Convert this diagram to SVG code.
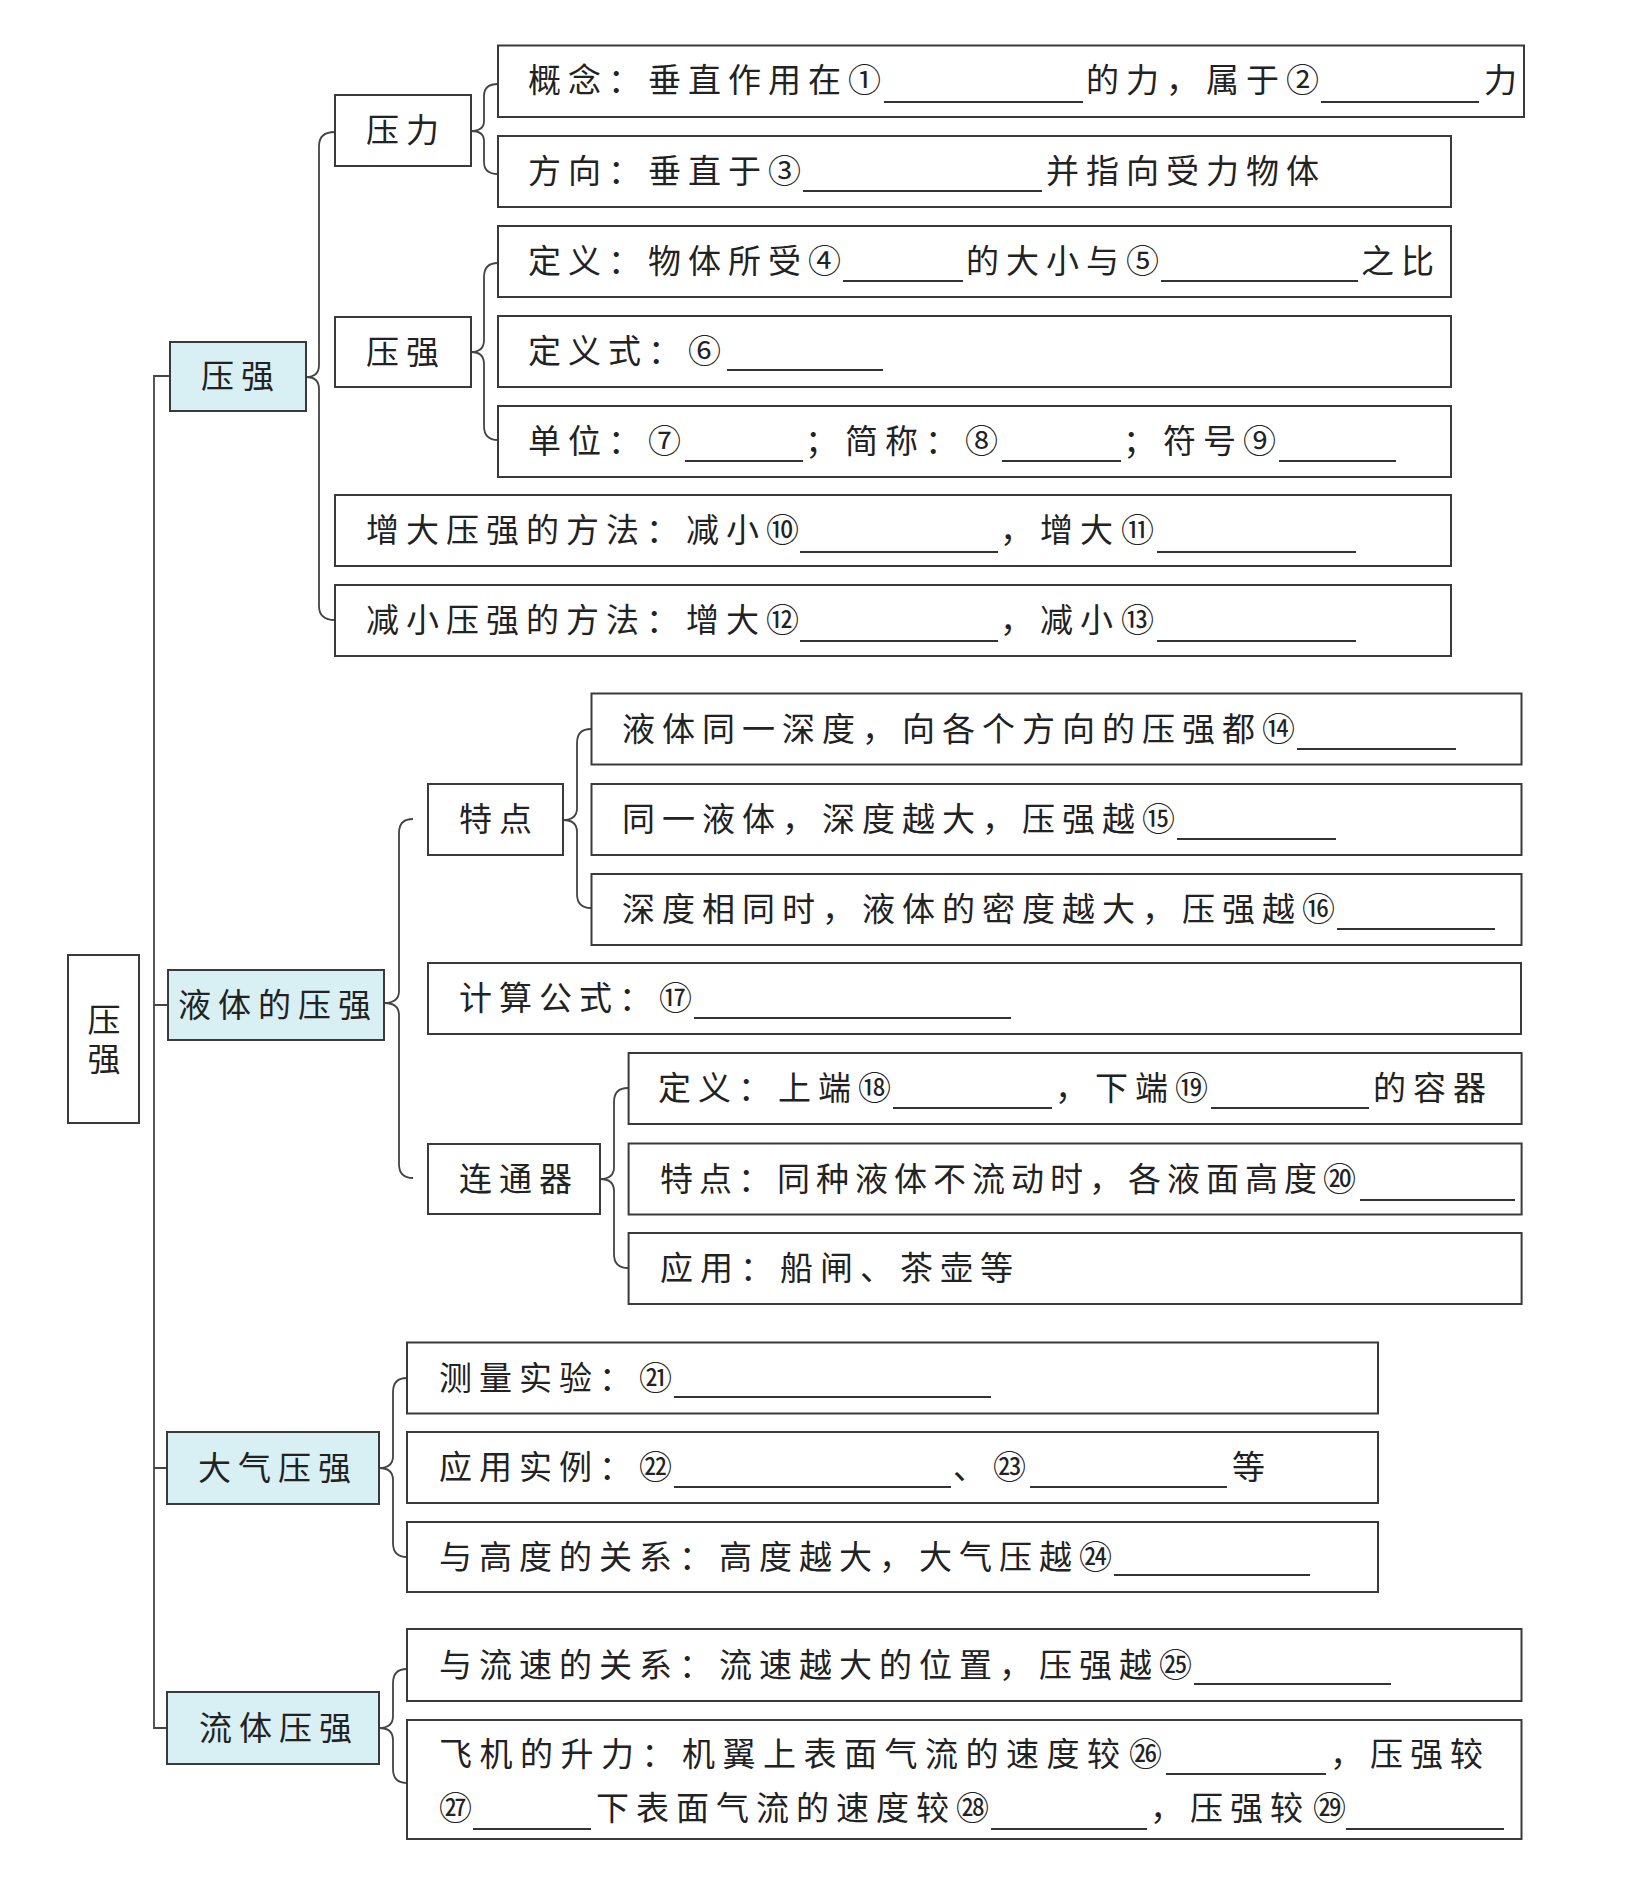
<svg xmlns="http://www.w3.org/2000/svg" width="1638" height="1879" viewBox="0 0 1638 1879">
<style>
.bx{fill:#fff;stroke:#3a3a3a;stroke-width:2}
.l1{fill:#d8eff4;stroke:#3a3a3a;stroke-width:2}
.t{font-family:"Noto Sans CJK SC","Noto Sans",sans-serif;font-size:33px;letter-spacing:7px;fill:#222}
.ul{stroke:#333;stroke-width:2}
.cn{fill:none;stroke:#444;stroke-width:1.8}
</style>
<rect width="1638" height="1879" fill="#fff"/>
<g id="connectors">
<path class="cn" d="M170,376 H154 V1728 H167 M154,1005 H168 M154,1468 H167"/>
<path class="cn" d="M335,132 Q319,132 319,146 L319,365 Q319,377 306,377 Q319,377 319,389 L319,606 Q319,620 335,620"/>
<path class="cn" d="M498,84 Q484,84 484,96 L484,121 Q484,131 471,131 Q484,131 484,141 L484,162 Q484,174 498,174"/>
<path class="cn" d="M498,263 Q484,263 484,277 L484,340 Q484,352 471,352 Q484,352 484,364 L484,426 Q484,440 498,440"/>
<path class="cn" d="M413,819 Q399,819 399,833 L399,991 Q399,1003 384,1003 Q399,1003 399,1015 L399,1164 Q399,1178 413,1178"/>
<path class="cn" d="M591,729 Q577,729 577,743 L577,808 Q577,820 563,820 Q577,820 577,832 L577,894 Q577,908 591,908"/>
<path class="cn" d="M628,1088 Q614,1088 614,1102 L614,1167 Q614,1179 600,1179 Q614,1179 614,1191 L614,1254 Q614,1268 628,1268"/>
<path class="cn" d="M407,1378 Q393,1378 393,1392 L393,1456 Q393,1468 379,1468 Q393,1468 393,1480 L393,1543 Q393,1557 407,1557"/>
<path class="cn" d="M407,1669 Q393,1669 393,1683 L393,1716 Q393,1728 379,1728 Q393,1728 393,1740 L393,1769 Q393,1783 407,1783"/>
</g>
<g id="root"><rect class="bx" x="68" y="955" width="71" height="168"/><text class="t" x="104" y="1003" writing-mode="vertical-rl" style="letter-spacing:6px">压强</text></g>
<g id="n-yaqiang"><rect class="l1" x="170" y="342" width="136" height="69"/><text class="t" x="201" y="388">压强</text></g>
<g id="n-yeti"><rect class="l1" x="168" y="970" width="216" height="70"/><text class="t" x="178" y="1017">液体的压强</text></g>
<g id="n-daqi"><rect class="l1" x="167" y="1432" width="212" height="72"/><text class="t" x="198" y="1480">大气压强</text></g>
<g id="n-liuti"><rect class="l1" x="167" y="1692" width="212" height="72"/><text class="t" x="199" y="1740">流体压强</text></g>
<g id="n-yali"><rect class="bx" x="335" y="95" width="136" height="71"/><text class="t" x="366" y="142">压力</text></g>
<g id="n-yaqiang2"><rect class="bx" x="335" y="317" width="136" height="70"/><text class="t" x="366" y="364">压强</text></g>
<g id="n-gainian"><rect class="bx" x="498" y="45.5" width="1026" height="71.5"/>
<text class="t" y="92"><tspan x="528">概念：垂直作用在</tspan><tspan x="848">①</tspan><tspan x="1086">的力，属于</tspan><tspan x="1286">②</tspan><tspan x="1484">力</tspan></text>
<line class="ul" x1="884" y1="102" x2="1083" y2="102"/><line class="ul" x1="1321" y1="102" x2="1479" y2="102"/></g>
<g id="n-fangxiang"><rect class="bx" x="498" y="136" width="953" height="71"/>
<text class="t" y="183"><tspan x="528">方向：垂直于</tspan><tspan x="768">③</tspan><tspan x="1046">并指向受力物体</tspan></text>
<line class="ul" x1="803" y1="191" x2="1042" y2="191"/></g>
<g id="n-dingyi"><rect class="bx" x="498" y="226" width="953" height="71"/>
<text class="t" y="273"><tspan x="528">定义：物体所受</tspan><tspan x="808">④</tspan><tspan x="966">的大小与</tspan><tspan x="1126">⑤</tspan><tspan x="1361">之比</tspan></text>
<line class="ul" x1="843" y1="281" x2="963" y2="281"/><line class="ul" x1="1161" y1="281" x2="1358" y2="281"/></g>
<g id="n-dingyishi"><rect class="bx" x="498" y="316" width="953" height="71"/>
<text class="t" y="363"><tspan x="528">定义式：</tspan><tspan x="688">⑥</tspan></text>
<line class="ul" x1="727" y1="370" x2="883" y2="370"/></g>
<g id="n-danwei"><rect class="bx" x="498" y="406" width="953" height="71"/>
<text class="t" y="453"><tspan x="528">单位：</tspan><tspan x="648">⑦</tspan><tspan x="805">；简称：</tspan><tspan x="965">⑧</tspan><tspan x="1123">；符号</tspan><tspan x="1243">⑨</tspan></text>
<line class="ul" x1="685" y1="461" x2="803" y2="461"/><line class="ul" x1="1002" y1="461" x2="1121" y2="461"/><line class="ul" x1="1279" y1="461" x2="1396" y2="461"/></g>
<g id="n-zengda"><rect class="bx" x="335" y="495" width="1116" height="71"/>
<text class="t" y="542"><tspan x="366">增大压强的方法：减小</tspan><tspan x="766">⑩</tspan><tspan x="1000">，增大</tspan><tspan x="1121">⑪</tspan></text>
<line class="ul" x1="800" y1="552" x2="998" y2="552"/><line class="ul" x1="1157" y1="552" x2="1356" y2="552"/></g>
<g id="n-jianxiao"><rect class="bx" x="335" y="585" width="1116" height="71"/>
<text class="t" y="632"><tspan x="366">减小压强的方法：增大</tspan><tspan x="766">⑫</tspan><tspan x="1000">，减小</tspan><tspan x="1121">⑬</tspan></text>
<line class="ul" x1="800" y1="641" x2="998" y2="641"/><line class="ul" x1="1157" y1="641" x2="1356" y2="641"/></g>
<g id="n-tedian"><rect class="bx" x="428" y="784" width="135" height="71"/><text class="t" x="459" y="831">特点</text></g>
<g id="n-jisuan"><rect class="bx" x="428" y="963" width="1093" height="71"/>
<text class="t" y="1010"><tspan x="459">计算公式：</tspan><tspan x="659">⑰</tspan></text>
<line class="ul" x1="694" y1="1018" x2="1011" y2="1018"/></g>
<g id="n-liantongqi"><rect class="bx" x="428" y="1144" width="172" height="70"/><text class="t" x="459" y="1191">连通器</text></g>
<g id="n-ye1"><rect class="bx" x="591.5" y="693.5" width="930" height="71"/>
<text class="t" y="741"><tspan x="622">液体同一深度，向各个方向的压强都</tspan><tspan x="1262">⑭</tspan></text>
<line class="ul" x1="1297" y1="749" x2="1456" y2="749"/></g>
<g id="n-ye2"><rect class="bx" x="591.5" y="784" width="930" height="71"/>
<text class="t" y="831"><tspan x="622">同一液体，深度越大，压强越</tspan><tspan x="1142">⑮</tspan></text>
<line class="ul" x1="1177" y1="839" x2="1336" y2="839"/></g>
<g id="n-ye3"><rect class="bx" x="591.5" y="874" width="930" height="71"/>
<text class="t" y="921"><tspan x="622">深度相同时，液体的密度越大，压强越</tspan><tspan x="1302">⑯</tspan></text>
<line class="ul" x1="1337" y1="929" x2="1495" y2="929"/></g>
<g id="n-lian1"><rect class="bx" x="628.6" y="1053" width="893" height="71"/>
<text class="t" y="1100"><tspan x="658">定义：上端</tspan><tspan x="858">⑱</tspan><tspan x="1055">，下端</tspan><tspan x="1175">⑲</tspan><tspan x="1373">的容器</tspan></text>
<line class="ul" x1="893" y1="1108" x2="1052" y2="1108"/><line class="ul" x1="1211" y1="1108" x2="1369" y2="1108"/></g>
<g id="n-lian2"><rect class="bx" x="628.6" y="1143.5" width="893" height="71"/>
<text class="t" y="1191"><tspan x="660" style="letter-spacing:6px">特点：同种液体不流动时，各液面高度</tspan><tspan x="1323">⑳</tspan></text>
<line class="ul" x1="1360" y1="1200" x2="1515" y2="1200"/></g>
<g id="n-lian3"><rect class="bx" x="628.6" y="1233" width="893" height="71"/>
<text class="t" x="660" y="1280">应用：船闸、茶壶等</text></g>
<g id="n-celiang"><rect class="bx" x="407" y="1342.5" width="971" height="71"/>
<text class="t" y="1390"><tspan x="439">测量实验：</tspan><tspan x="639">㉑</tspan></text>
<line class="ul" x1="674" y1="1397" x2="991" y2="1397"/></g>
<g id="n-yingyong"><rect class="bx" x="407" y="1432" width="971" height="71"/>
<text class="t" y="1479"><tspan x="439">应用实例：</tspan><tspan x="639">㉒</tspan><tspan x="953">、</tspan><tspan x="993">㉓</tspan><tspan x="1232">等</tspan></text>
<line class="ul" x1="674" y1="1487" x2="951" y2="1487"/><line class="ul" x1="1030" y1="1487" x2="1227" y2="1487"/></g>
<g id="n-gaodu"><rect class="bx" x="407" y="1522" width="971" height="70"/>
<text class="t" y="1569"><tspan x="439">与高度的关系：高度越大，大气压越</tspan><tspan x="1079">㉔</tspan></text>
<line class="ul" x1="1114" y1="1575" x2="1310" y2="1575"/></g>
<g id="n-liusu"><rect class="bx" x="407" y="1629" width="1114.5" height="72"/>
<text class="t" y="1677"><tspan x="439">与流速的关系：流速越大的位置，压强越</tspan><tspan x="1159">㉕</tspan></text>
<line class="ul" x1="1194" y1="1684" x2="1391" y2="1684"/></g>
<g id="n-feiji"><rect class="bx" x="407" y="1720" width="1114.5" height="119"/>
<text class="t" y="1766"><tspan x="439" style="letter-spacing:7.5px">飞机的升力：机翼上表面气流的速度较</tspan><tspan x="1129">㉖</tspan><tspan x="1330">，压强较</tspan></text>
<text class="t" y="1820"><tspan x="439">㉗</tspan><tspan x="596">下表面气流的速度较</tspan><tspan x="956">㉘</tspan><tspan x="1150">，压强较</tspan><tspan x="1313">㉙</tspan></text>
<line class="ul" x1="1166" y1="1774" x2="1326" y2="1774"/>
<line class="ul" x1="473" y1="1829" x2="591" y2="1829"/><line class="ul" x1="991" y1="1829" x2="1147" y2="1829"/><line class="ul" x1="1346" y1="1829" x2="1504" y2="1829"/></g>
</svg>
